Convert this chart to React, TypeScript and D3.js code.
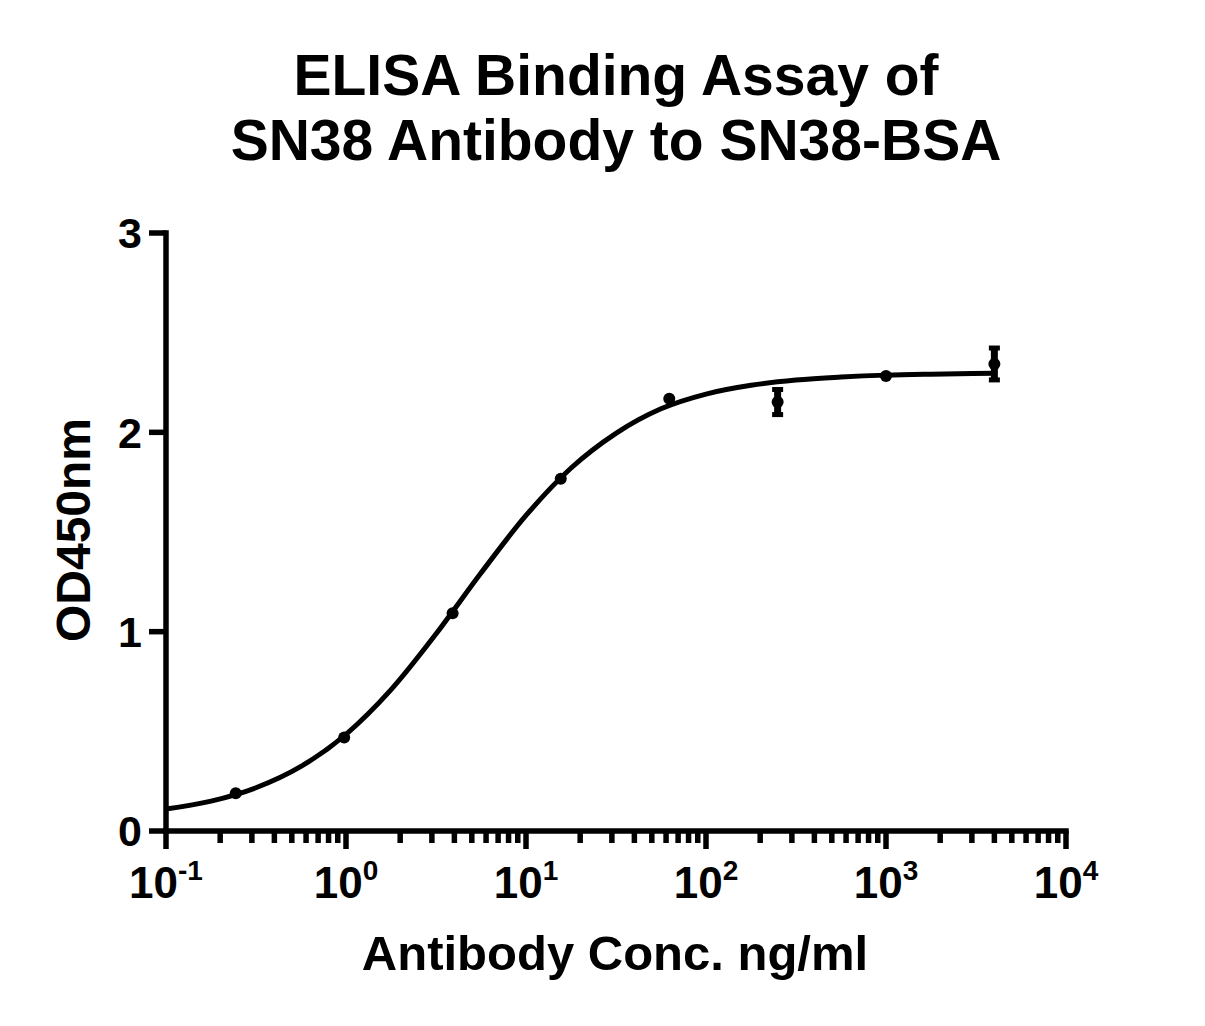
import React from 'react';
import * as d3 from 'd3';

// measured points (mean OD, SD where visible)
const concentrations = [0.244, 0.977, 3.91, 15.6, 62.5, 250, 1000, 4000];
const meanOD = [0.189, 0.469, 1.092, 1.767, 2.168, 2.152, 2.283, 2.343];
const sdOD = [0, 0, 0, 0, 0, 0.063, 0, 0.08];

// fitted curve
const curveConc = [0.1, 0.178, 0.316, 0.562, 1, 1.78, 3.16, 5.62, 10, 17.8, 31.6, 56.2, 100, 178, 316, 562, 1000, 1780, 4000];
const curveOD = [0.11, 0.15, 0.217, 0.324, 0.485, 0.709, 0.988, 1.294, 1.583, 1.821, 1.995, 2.118, 2.192, 2.236, 2.262, 2.277, 2.287, 2.292, 2.296];

const yTicks = [0, 1, 2, 3];
const xDecades = [-1, 0, 1, 2, 3, 4];

const titleLines = ['ELISA Binding Assay of', 'SN38 Antibody to SN38-BSA'];
const xLabel = 'Antibody Conc. ng/ml';
const yLabel = 'OD450nm';

const width = 1205;
const height = 1026;
const margin = { top: 233, right: 139, bottom: 195, left: 166 };
const font = '"Liberation Sans", Arial, sans-serif';

const App: React.FC = () => {
  const x = d3.scaleLog()
    .domain([0.1, 10000])
    .range([margin.left, width - margin.right]);

  const y = d3.scaleLinear()
    .domain([0, 3])
    .range([height - margin.bottom, margin.top]);

  const x0 = x.range()[0];
  const y0 = y.range()[0];

  // minor ticks 2..9 in each decade
  const minorTicks: number[] = [];
  xDecades.slice(0, -1).forEach(d => {
    for (let k = 2; k <= 9; k++) minorTicks.push(k * Math.pow(10, d));
  });

  const line = d3.line<number>()
    .x((_, i) => x(curveConc[i]))
    .y(d => y(d))
    .curve(d3.curveMonotoneX);

  const axisW = 5.5;

  return (
    <div style={{ position: 'absolute', left: 0, top: 0 }}>
      <svg width={width} height={height} style={{ display: 'block', background: '#fff' }}>
        {/* title */}
        <text x={616} y={95} textAnchor="middle" fontFamily={font} fontWeight="bold" fontSize={57}>
          {titleLines[0]}
        </text>
        <text x={616} y={160} textAnchor="middle" fontFamily={font} fontWeight="bold" fontSize={57}>
          {titleLines[1]}
        </text>

        {/* y axis */}
        <line x1={x0} x2={x0} y1={y(3) - axisW / 2} y2={y0 + axisW / 2} stroke="#000" strokeWidth={axisW} />
        {yTicks.map(t => (
          <g key={t}>
            <line x1={x0 - 17} x2={x0} y1={y(t)} y2={y(t)} stroke="#000" strokeWidth={axisW} />
            <text x={x0 - 24} y={y(t)} dy="0.36em" textAnchor="end" fontFamily={font} fontWeight="bold" fontSize={43}>
              {t}
            </text>
          </g>
        ))}

        {/* x axis */}
        <line x1={x0 - axisW / 2} x2={x(10000) + axisW / 2} y1={y0} y2={y0} stroke="#000" strokeWidth={axisW} />
        {minorTicks.map(t => (
          <line key={t} x1={x(t)} x2={x(t)} y1={y0} y2={y0 + 12} stroke="#000" strokeWidth={axisW} />
        ))}
        {xDecades.map(d => (
          <g key={d}>
            <line x1={x(Math.pow(10, d))} x2={x(Math.pow(10, d))} y1={y0} y2={y0 + 18} stroke="#000" strokeWidth={axisW} />
            <text x={x(Math.pow(10, d))} y={898} textAnchor="middle" fontFamily={font} fontWeight="bold" fontSize={44}>
              10
              <tspan dy={-18} fontSize={28}>{d}</tspan>
            </text>
          </g>
        ))}

        {/* axis titles */}
        <text x={615} y={970} textAnchor="middle" fontFamily={font} fontWeight="bold" fontSize={49}>
          {xLabel}
        </text>
        <text transform={`translate(90,530) rotate(-90)`} textAnchor="middle" fontFamily={font} fontWeight="bold" fontSize={48}>
          {yLabel}
        </text>

        {/* fitted curve */}
        <path d={line(curveOD) || ''} fill="none" stroke="#000" strokeWidth={5} />

        {/* error bars */}
        {concentrations.map((c, i) => sdOD[i] > 0 && (
          <g key={'e' + c}>
            <line x1={x(c)} x2={x(c)} y1={y(meanOD[i] - sdOD[i])} y2={y(meanOD[i] + sdOD[i])} stroke="#000" strokeWidth={7} />
            <line x1={x(c) - 5.5} x2={x(c) + 5.5} y1={y(meanOD[i] - sdOD[i])} y2={y(meanOD[i] - sdOD[i])} stroke="#000" strokeWidth={5} />
            <line x1={x(c) - 5.5} x2={x(c) + 5.5} y1={y(meanOD[i] + sdOD[i])} y2={y(meanOD[i] + sdOD[i])} stroke="#000" strokeWidth={5} />
          </g>
        ))}

        {/* points */}
        {concentrations.map((c, i) => (
          <circle key={c} cx={x(c)} cy={y(meanOD[i])} r={6} fill="#000" />
        ))}
      </svg>
    </div>
  );
};

export default App;
